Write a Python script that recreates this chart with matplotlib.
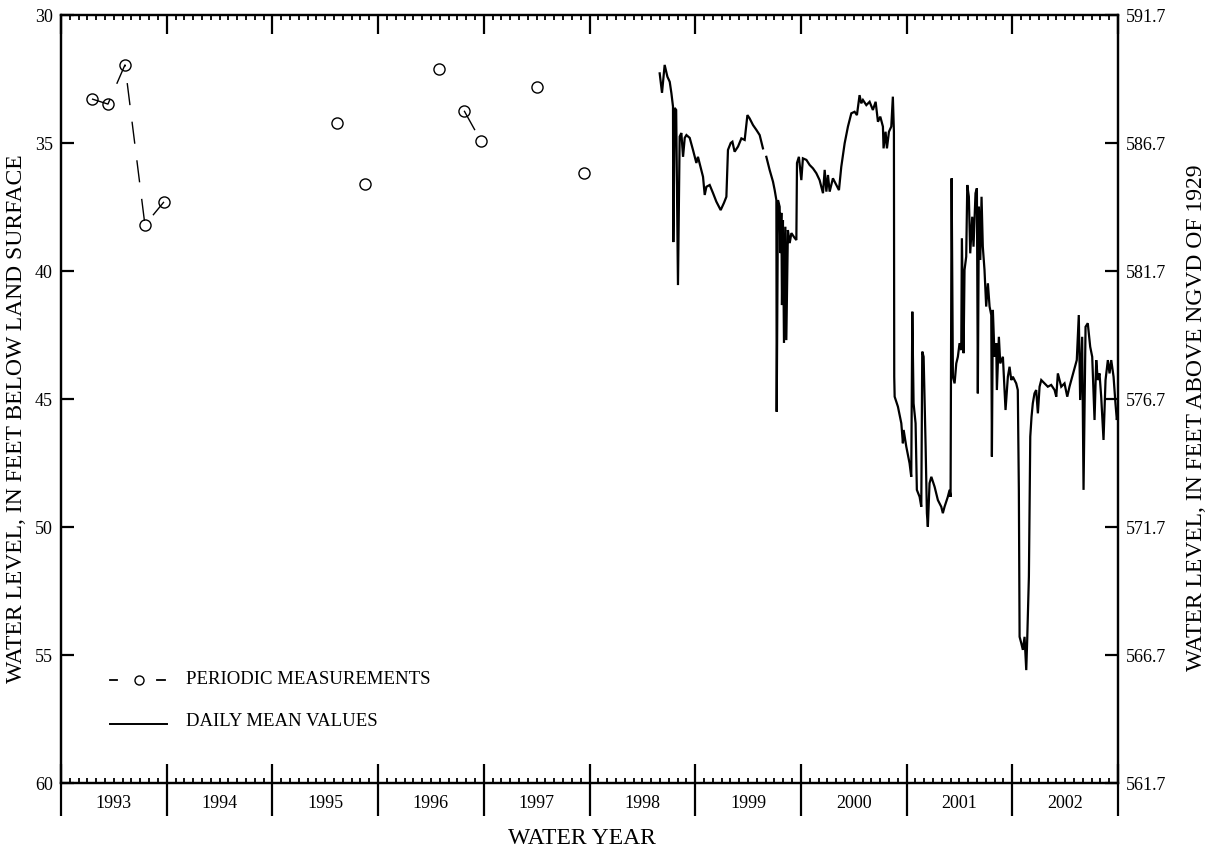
import numpy as np
import matplotlib
matplotlib.use("Agg")
import matplotlib.pyplot as plt
from matplotlib.transforms import blended_transform_factory

# ---------------- data ----------------
water_years = [1993, 1994, 1995, 1996, 1997, 1998, 1999, 2000, 2001, 2002]
land_surface_alt = 621.7

# periodic measurements (decimal year, depth below land surface, ft); group = connected runs
meas_year = [1993.043, 1993.194, 1993.355, 1993.544, 1993.724,
             1995.357, 1995.625,
             1996.324, 1996.564, 1996.724,
             1997.254, 1997.696]
meas_depth = [33.28, 33.48, 31.95, 38.20, 37.30,
              34.23, 36.61,
              32.12, 33.74, 34.93,
              32.80, 36.18]
meas_group = [1, 1, 1, 1, 1, 2, 3, 4, 5, 5, 6, 7]

# daily mean values (decimal year, depth below land surface, ft); NaN = missing record
daily_year = [
    1998.414, 1998.436, 1998.461, 1998.487, 1998.509, 1998.525, 1998.540, 1998.543, 1998.556, 1998.570,
    1998.587, 1998.603, 1998.619, 1998.635, 1998.651, 1998.667, 1998.698, 1998.729, 1998.761, 1998.776,
    1998.808, 1998.824, 1998.840, 1998.856, 1998.887, 1998.918, 1998.950, 1998.991, 1999.022, 1999.045,
    1999.060, 1999.086, 1999.102, 1999.123, 1999.155, 1999.187, 1999.218, 1999.244, 1999.265, 1999.297,
    1999.329, 1999.360, 1999.391, 1999.407, 1999.423, 1999.454, 1999.486, 1999.502, 1999.518, 1999.521,
    1999.533, 1999.549, 1999.556, 1999.565, 1999.571, 1999.580, 1999.590, 1999.603, 1999.612, 1999.627,
    1999.644, 1999.660, 1999.691, 1999.707, 1999.713, 1999.731, 1999.754, 1999.769, 1999.802, 1999.833,
    1999.864, 1999.896, 1999.927, 1999.959, 1999.975, 1999.991, 2000.006, 2000.022, 2000.053, 2000.085,
    2000.110, 2000.132, 2000.164, 2000.195, 2000.227, 2000.258, 2000.280, 2000.305, 2000.321, 2000.337,
    2000.369, 2000.400, 2000.431, 2000.457, 2000.479, 2000.501, 2000.526, 2000.532, 2000.551, 2000.564,
    2000.583, 2000.605, 2000.620, 2000.630, 2000.633, 2000.637, 2000.668, 2000.700, 2000.715, 2000.722,
    2000.747, 2000.778, 2000.794, 2000.804, 2000.816, 2000.835, 2000.847, 2000.873, 2000.889, 2000.898,
    2000.911, 2000.930, 2000.942, 2000.951, 2000.967, 2000.984, 2001.015, 2001.046, 2001.078, 2001.093,
    2001.109, 2001.140, 2001.157, 2001.166, 2001.176, 2001.188, 2001.204, 2001.220, 2001.235, 2001.251,
    2001.267, 2001.273, 2001.289, 2001.298, 2001.314, 2001.324, 2001.339, 2001.352, 2001.371, 2001.383,
    2001.402, 2001.415, 2001.424, 2001.434, 2001.447, 2001.459, 2001.471, 2001.487, 2001.503, 2001.519,
    2001.535, 2001.551, 2001.557, 2001.566, 2001.582, 2001.598, 2001.604, 2001.623, 2001.636, 2001.661,
    2001.686, 2001.708, 2001.724, 2001.740, 2001.755, 2001.787, 2001.802, 2001.812, 2001.819, 2001.835,
    2001.850, 2001.866, 2001.882, 2001.891, 2001.907, 2001.920, 2001.932, 2001.944, 2001.960, 2001.976,
    2001.992, 2002.008, 2002.024, 2002.055, 2002.086, 2002.118, 2002.150, 2002.166, 2002.181, 2002.213,
    2002.244, 2002.270, 2002.291, 2002.317, 2002.339, 2002.360, 2002.379, 2002.392, 2002.411, 2002.424,
    2002.443, 2002.464, 2002.487, 2002.506, 2002.528, 2002.544, 2002.559, 2002.575, 2002.591, 2002.613,
    2002.632, 2002.654, 2002.670, 2002.686, 2002.708, 2002.726, 2002.739, 2002.750]
daily_depth = [
    32.28, 33.04, 31.95, 32.41, 32.61, 33.06, 33.58, 38.87, 33.63, 33.71,
    40.55, 34.75, 34.61, 35.54, 34.80, 34.69, 34.80, 35.27, 35.78, 35.54,
    36.05, 36.32, 37.03, 36.71, 36.64, 36.95, 37.29, 37.62, 37.34, 37.10,
    35.27, 35.00, 34.95, 35.34, 35.14, 34.82, 34.88, 33.91, 34.04, 34.30,
    34.49, 34.69, 35.21, np.nan, 35.54, 36.05, 36.51, 36.84, 37.23, 45.50,
    37.23, 37.49, 39.30, 37.73, 41.33, 38.01, 42.81, 38.27, 42.70, 38.40,
    38.91, 38.52, 38.71, 38.79, 35.78, 35.54, 36.45, 35.60, 35.66, 35.86,
    35.99, 36.18, 36.45, 36.96, 36.05, 36.90, 36.25, 36.90, 36.38, 36.64,
    36.84, 35.93, 35.01, 34.36, 33.84, 33.78, 33.91, 33.13, 33.45, 33.32,
    33.52, 33.39, 33.71, 33.39, 34.17, 33.97, 34.36, 35.21, 34.56, 35.21,
    34.56, 34.36, 33.19, 34.56, 44.13, 44.91, 45.30, 45.95, 46.73, 46.21,
    46.86, 47.51, 48.04, 41.59, 45.17, 45.95, 48.55, 48.82, 49.21, 43.15,
    43.35, 46.86, 49.46, 49.99, 48.29, 48.04, 48.43, 48.95, 49.21, 49.46,
    49.21, 48.82, 48.55, 48.82, 36.38, 44.13, 44.39, 43.61, 43.35, 42.82,
    43.09, 38.72, 43.21, 39.96, 39.44, 36.64, 37.10, 39.31, 37.88, 39.05,
    36.96, 36.77, 44.78, 37.49, 39.57, 37.10, 39.05, 39.96, 41.39, 40.48,
    41.39, 41.72, 47.25, 41.52, 43.35, 42.82, 44.65, 42.57, 43.61, 43.35,
    45.43, 44.13, 43.74, 44.26, 44.13, 44.39, 44.65, 48.55, 54.29, 54.54,
    54.80, 54.29, 55.59, 54.41, 51.94, 46.47, 45.69, 45.17, 44.78, 44.65,
    45.56, 44.52, 44.26, 44.39, 44.52, 44.45, 44.65, 44.91, 44.00, 44.52,
    44.39, 44.91, 44.52, 44.13, 43.80, 43.48, 41.72, 45.04, 42.57, 48.55,
    42.18, 42.04, 42.96, 43.35, 45.82, 43.48, 44.26, 44.00, 44.91, 46.60,
    44.26, 43.48, 44.00, 43.48, 44.13, 45.17, 45.82, 45.43]

# ---------------- figure ----------------
plt.rcParams['font.family'] = ['Liberation Serif', 'DejaVu Serif']
fig = plt.figure(figsize=(12.11, 8.49), dpi=100)
W, H = 1211, 849
L, R, T, B = 61, 1118, 15, 783
ax = fig.add_axes([L / W, 1 - B / H, (R - L) / W, (B - T) / H])

x0 = water_years[0] - 0.25
x1 = water_years[-1] + 0.75
ax.set_xlim(x0, x1)
ax.set_ylim(60, 30)

# daily values
ax.plot(daily_year, daily_depth, color='black', lw=1.6, solid_joinstyle='miter')

# periodic measurements
my = np.array(meas_year)
md = np.array(meas_depth)
mg = np.array(meas_group)
for g in np.unique(mg):
    sel = mg == g
    if sel.sum() > 1:
        ax.plot(my[sel], md[sel], color='black', lw=1.0, dashes=(16, 12))
ax.plot(my, md, ls='none', marker='o', ms=8, mfc='none', mec='black', mew=1.0)

# spines & ticks
for s in ax.spines.values():
    s.set_linewidth(1.6)
boundaries = [x0 + i for i in range(len(water_years) + 1)]
months = [x0 + i / 12 for i in range(12 * len(water_years) + 1) if i % 12 != 0]
ax.set_xticks(boundaries)
ax.set_xticklabels([])
ax.set_xticks(months, minor=True)
ax.tick_params(axis='x', which='major', direction='in', length=13.5, width=1.6, top=True, bottom=True)
ax.tick_params(axis='x', which='minor', direction='in', length=3.8, width=1.3, top=True, bottom=True)

ax.set_yticks([30, 35, 40, 45, 50, 55, 60])
ax.tick_params(axis='y', which='major', direction='in', length=9.5, width=1.6, labelsize=13, pad=6)

# outward major ticks below bottom axis
sec = ax.secondary_xaxis('bottom')
sec.set_xticks(boundaries)
sec.set_xticklabels([])
sec.tick_params(axis='x', which='major', direction='out', length=24, width=1.6)
sec.tick_params(axis='x', which='minor', length=0)
sec.spines['bottom'].set_visible(False)

# year labels centered in each water year
trans = blended_transform_factory(ax.transData, ax.transAxes)
for i, yr in enumerate(water_years):
    ax.text(x0 + i + 0.5, -20 / (B - T), str(yr), transform=trans, ha='center', va='center', fontsize=13)

# right axis (altitude)
ax2 = ax.twinx()
ax2.set_ylim(land_surface_alt - 60, land_surface_alt - 30)
ax2.set_yticks([land_surface_alt - d for d in [30, 35, 40, 45, 50, 55, 60]])
ax2.set_yticklabels([f"{land_surface_alt - d:.1f}" for d in [30, 35, 40, 45, 50, 55, 60]])
ax2.tick_params(axis='y', direction='in', length=9.5, width=1.6, labelsize=13, pad=6)
for s in ax2.spines.values():
    s.set_linewidth(1.6)

# axis titles
fig.text(17 / W, 1 - 419 / H, 'WATER LEVEL, IN FEET BELOW LAND SURFACE', rotation=90,
         ha='center', va='center', fontsize=17)
fig.text(1197 / W, 1 - 418 / H, 'WATER LEVEL, IN FEET ABOVE NGVD OF 1929', rotation=90,
         ha='center', va='center', fontsize=17)
fig.text(582 / W, 1 - 838 / H, 'WATER YEAR', ha='center', va='center', fontsize=17)

# legend (drawn in axes coordinates)
def ax_x(px):
    return (px - L) / (R - L)

def ax_y(py):
    return (B - py) / (B - T)

ax.plot([ax_x(110), ax_x(117)], [ax_y(680)] * 2, color='black', lw=1.3, transform=ax.transAxes)
ax.plot([ax_x(157), ax_x(165)], [ax_y(680)] * 2, color='black', lw=1.3, transform=ax.transAxes)
ax.plot([ax_x(139)], [ax_y(680)], marker='o', ms=6.5, mfc='none', mec='black', mew=1.0,
        transform=ax.transAxes)
ax.text(ax_x(186), ax_y(680), 'PERIODIC MEASUREMENTS', transform=ax.transAxes,
        ha='left', va='center', fontsize=13.5)
ax.plot([ax_x(110), ax_x(167)], [ax_y(724)] * 2, color='black', lw=1.4, transform=ax.transAxes)
ax.text(ax_x(186), ax_y(721), 'DAILY MEAN VALUES', transform=ax.transAxes,
        ha='left', va='center', fontsize=13.5)

fig.savefig('out.png', dpi=100)
